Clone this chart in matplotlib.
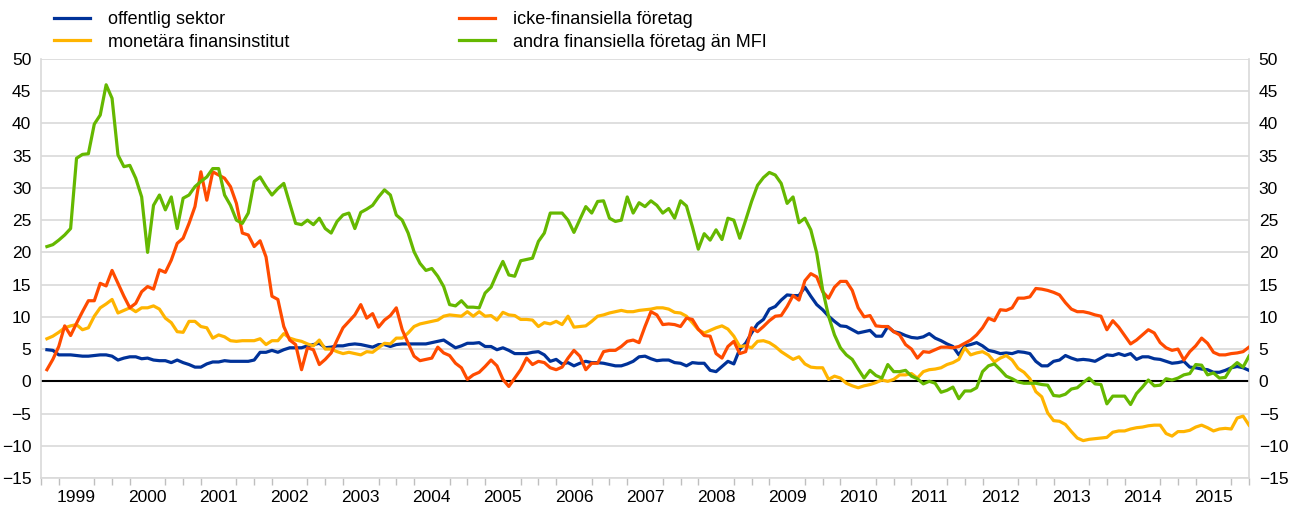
import numpy as np
import matplotlib
matplotlib.use("Agg")
import matplotlib.pyplot as plt

plt.rcParams['font.family'] = ['Liberation Sans', 'DejaVu Sans']

# monthly growth rates, Jan 1999 - Dec 2015 (percent)
offentlig = [
    4.9, 4.8, 4.1, 4.1, 4.1, 4.0, 3.9, 3.9, 4.0, 4.1,
    4.1, 3.9, 3.3, 3.6, 3.8, 3.8, 3.5, 3.6, 3.3, 3.2,
    3.2, 2.9, 3.3, 2.9, 2.6, 2.2, 2.2, 2.7, 3.0, 3.0,
    3.2, 3.1, 3.1, 3.1, 3.1, 3.3, 4.5, 4.5, 4.8, 4.5,
    4.9, 5.2, 5.2, 5.2, 5.5, 5.7, 5.9, 5.2, 5.3, 5.5,
    5.5, 5.7, 5.8, 5.7, 5.5, 5.3, 5.7, 5.7, 5.4, 5.7,
    5.8, 5.8, 5.8, 5.8, 5.8, 6.0, 6.2, 6.4, 5.8, 5.2,
    5.5, 5.9, 5.9, 6.0, 5.4, 5.4, 4.9, 5.2, 4.8, 4.3,
    4.3, 4.3, 4.5, 4.6, 4.1, 3.1, 3.4, 2.7, 2.9, 2.4,
    2.8, 3.1, 2.9, 2.9, 2.8, 2.6, 2.4, 2.4, 2.7, 3.1,
    3.8, 3.9, 3.5, 3.2, 3.3, 3.3, 2.9, 2.8, 2.4, 2.9,
    2.8, 2.8, 1.7, 1.5, 2.3, 3.1, 2.7, 5.0, 5.9, 7.5,
    8.9, 9.6, 11.2, 11.6, 12.6, 13.4, 13.3, 13.3, 14.6, 13.2,
    11.9, 11.1, 10.1, 9.3, 8.6, 8.5, 8.0, 7.5, 7.7, 7.9,
    7.0, 7.0, 8.5, 7.7, 7.5, 7.1, 6.8, 6.7, 6.9, 7.4,
    6.7, 6.3, 5.8, 5.4, 4.1, 5.5, 5.7, 6.0, 5.5, 4.8,
    4.6, 4.3, 4.4, 4.3, 4.6, 4.5, 4.3, 3.1, 2.4, 2.4,
    3.1, 3.3, 4.0, 3.6, 3.3, 3.4, 3.3, 3.1, 3.6, 4.1,
    4.0, 4.3, 4.0, 4.3, 3.4, 3.8, 3.8, 3.5, 3.4, 3.1,
    2.8, 2.9, 3.1, 2.2, 2.1, 1.9, 1.8, 1.4, 1.4, 1.7,
    2.1, 2.3, 2.1, 1.7,
]
monetara = [
    6.6, 7.0, 7.6, 8.3, 8.6, 8.8, 8.0, 8.3, 10.1, 11.4,
    12.0, 12.7, 10.6, 11.0, 11.4, 10.8, 11.4, 11.4, 11.7, 11.2,
    9.8, 9.1, 7.7, 7.6, 9.3, 9.3, 8.5, 8.3, 6.7, 7.2,
    6.9, 6.3, 6.2, 6.3, 6.3, 6.3, 6.6, 5.7, 6.3, 6.3,
    7.4, 6.7, 6.4, 6.2, 5.8, 5.5, 6.4, 5.0, 5.0, 4.6,
    4.3, 4.5, 4.3, 4.1, 4.6, 4.5, 5.2, 5.9, 5.8, 6.7,
    6.7, 7.5, 8.5, 8.9, 9.1, 9.3, 9.5, 10.1, 10.3, 10.2,
    10.1, 10.8, 10.1, 10.8, 10.1, 10.2, 9.5, 10.7, 10.3, 10.2,
    9.6, 9.6, 9.5, 8.5, 9.1, 8.9, 9.3, 8.8, 10.1, 8.4,
    8.5, 8.6, 9.3, 10.1, 10.3, 10.6, 10.8, 11.0, 10.8, 10.8,
    11.0, 11.1, 11.2, 11.4, 11.4, 11.2, 10.7, 10.6, 10.1, 9.1,
    8.0, 7.5, 7.9, 8.3, 8.6, 8.1, 7.0, 5.4, 5.5, 5.2,
    6.2, 6.3, 6.0, 5.4, 4.6, 4.0, 3.4, 3.8, 2.7, 2.2,
    2.1, 2.1, 0.3, 0.8, 0.5, -0.3, -0.7, -1.0, -0.7, -0.5,
    -0.2, 0.2, 0.0, 0.3, 1.0, 1.0, 1.2, 0.5, 1.5, 1.8,
    1.9, 2.1, 2.6, 2.9, 3.4, 5.2, 4.1, 4.4, 4.6, 4.1,
    3.0, 3.6, 4.0, 3.3, 2.0, 1.4, 0.4, -1.6, -2.4, -4.9,
    -6.1, -6.2, -6.7, -7.8, -8.8, -9.2, -9.0, -8.9, -8.8, -8.7,
    -7.9, -7.7, -7.7, -7.4, -7.2, -7.1, -6.9, -6.8, -6.8, -8.1,
    -8.5, -7.8, -7.8, -7.6, -7.1, -6.8, -7.2, -7.7, -7.4, -7.3,
    -7.4, -5.7, -5.4, -6.8,
]
icke_fin = [
    1.8, 3.4, 5.4, 8.6, 7.1, 9.0, 10.8, 12.5, 12.5, 15.2,
    14.8, 17.2, 15.2, 13.2, 11.4, 12.1, 13.9, 14.7, 14.3, 17.3,
    16.9, 18.8, 21.4, 22.2, 24.5, 27.1, 32.5, 28.1, 32.5, 32.0,
    31.5, 30.2, 27.6, 23.0, 22.7, 20.9, 21.8, 19.3, 13.2, 12.7,
    8.5, 6.4, 5.7, 1.8, 5.2, 4.9, 2.6, 3.4, 4.4, 6.4,
    8.3, 9.3, 10.3, 11.9, 9.8, 10.5, 8.4, 9.5, 10.2, 11.4,
    8.0, 5.9, 3.9, 3.2, 3.4, 3.6, 5.3, 4.4, 4.0, 2.8,
    2.1, 0.3, 1.0, 1.4, 2.3, 3.3, 2.4, 0.3, -0.8, 0.5,
    1.8, 3.6, 2.6, 3.1, 2.9, 2.1, 1.8, 2.2, 3.6, 4.8,
    3.9, 1.8, 2.8, 2.8, 4.6, 4.8, 4.8, 5.4, 6.2, 6.4,
    6.0, 8.5, 10.8, 10.3, 8.8, 8.9, 8.8, 8.5, 9.8, 9.6,
    8.1, 7.1, 7.0, 4.3, 3.6, 5.4, 6.2, 4.3, 4.6, 8.3,
    7.7, 8.5, 9.4, 10.1, 10.2, 11.6, 13.3, 12.6, 15.6, 16.7,
    16.2, 13.9, 12.9, 14.6, 15.5, 15.5, 14.1, 11.4, 10.0, 10.2,
    8.6, 8.5, 8.5, 7.7, 7.2, 5.7, 5.0, 3.6, 4.6, 4.5,
    4.9, 5.3, 5.3, 5.2, 5.4, 5.9, 6.4, 7.2, 8.3, 9.8,
    9.4, 11.1, 11.0, 11.4, 12.9, 12.9, 13.1, 14.4, 14.3, 14.1,
    13.8, 13.4, 12.2, 11.2, 10.8, 10.8, 10.6, 10.3, 10.1, 8.0,
    9.4, 8.4, 7.1, 5.8, 6.4, 7.2, 8.0, 7.5, 6.0, 5.2,
    4.8, 5.0, 3.3, 4.6, 5.5, 6.7, 5.9, 4.5, 4.1, 4.1,
    4.3, 4.4, 4.6, 5.3,
]
andra_fin = [
    20.9, 21.2, 21.9, 22.7, 23.7, 34.6, 35.2, 35.3, 39.9, 41.3,
    46.0, 43.9, 35.1, 33.3, 33.5, 31.5, 28.6, 20.0, 27.3, 28.9,
    26.6, 28.6, 23.7, 28.4, 28.9, 30.2, 31.0, 31.7, 33.0, 33.0,
    28.9, 27.3, 25.0, 24.5, 26.1, 31.0, 31.7, 30.2, 28.9, 29.9,
    30.7, 27.6, 24.5, 24.3, 25.0, 24.3, 25.3, 23.7, 23.0, 24.8,
    25.8, 26.1, 23.7, 26.2, 26.7, 27.3, 28.6, 29.7, 28.9, 25.8,
    25.0, 23.0, 20.1, 18.3, 17.2, 17.5, 16.3, 14.7, 11.9, 11.7,
    12.5, 11.5, 11.5, 11.4, 13.7, 14.6, 16.7, 18.6, 16.5, 16.3,
    18.7, 18.9, 19.1, 21.7, 23.0, 26.1, 26.1, 26.1, 25.0, 23.1,
    25.1, 27.1, 26.1, 27.9, 28.0, 25.3, 24.8, 25.0, 28.6, 26.1,
    27.7, 27.1, 28.0, 27.3, 26.1, 26.8, 25.3, 28.0, 27.2, 24.0,
    20.5, 22.9, 21.9, 23.5, 22.0, 25.3, 25.0, 22.2, 25.0, 27.9,
    30.4, 31.6, 32.4, 32.0, 30.7, 27.6, 28.6, 24.6, 25.3, 23.5,
    19.9, 14.2, 10.1, 7.2, 5.2, 4.1, 3.4, 1.9, 0.5, 1.7,
    0.9, 0.5, 2.6, 1.5, 1.5, 1.7, 0.8, 0.4, -0.4, 0.0,
    -0.3, -1.7, -1.4, -0.9, -2.7, -1.5, -1.5, -1.0, 1.5, 2.4,
    2.7, 1.8, 0.8, 0.4, -0.1, -0.3, -0.3, -0.3, -0.5, -0.6,
    -2.2, -2.3, -2.0, -1.2, -1.0, -0.2, 0.5, -0.4, -0.5, -3.5,
    -2.3, -2.3, -2.3, -3.6, -1.9, -0.9, 0.2, -0.7, -0.6, 0.4,
    0.2, 0.5, 1.0, 1.2, 2.6, 2.5, 1.0, 1.3, 0.5, 0.6,
    2.1, 2.9, 2.2, 3.9,
]
years = [str(y) for y in range(1999, 2016)]

series = [
    ("offentlig sektor", offentlig, "#003299"),
    ("monetära finansinstitut", monetara, "#ffb400"),
    ("icke-finansiella företag", icke_fin, "#ff4b00"),
    ("andra finansiella företag än MFI", andra_fin, "#65b800"),
]

fig = plt.figure(figsize=(12.89, 5.09), dpi=100)
ax = fig.add_axes([41 / 1289, 1 - 478 / 509, 1208 / 1289, 419 / 509])

months = np.arange(1, len(offentlig) + 1)
handles = []
for label, vals, col in series:
    h, = ax.plot(months, vals, color=col, lw=2.3, label=label,
                 solid_joinstyle="round", zorder=3)
    handles.append(h)

ax.axhline(0, color="black", lw=1.5, zorder=2)

ax.set_ylim(-15, 50)
ax.set_yticks(np.arange(-15, 51, 5))
ax.set_xlim(0, 12 * len(years))
ax.grid(axis="y", color="#d9d9d9", lw=1.2, zorder=0)
ax.set_axisbelow(True)

# years labelled at mid-year, quarterly tick marks
ax.set_xticks(np.arange(6, 12 * len(years), 12))
ax.set_xticklabels(years)
ax.set_xticks(np.arange(0, 12 * len(years) + 1, 3), minor=True)
ax.tick_params(axis="x", which="major", length=0, pad=9, labelsize=12.5)
ax.tick_params(axis="x", which="minor", length=5, color="#bfbfbf", width=1)
ax.tick_params(axis="y", length=0, labelsize=12.5, labelleft=True,
               labelright=True, pad=7)

for s in ["left", "right", "bottom"]:
    ax.spines[s].set_color("#d9d9d9")
    ax.spines[s].set_linewidth(1.2)
ax.spines["top"].set_visible(False)

fig.legend(handles=handles, loc="upper left", bbox_to_anchor=(0.029, 1.01),
           ncol=2, frameon=False, fontsize=13, handlelength=2.0,
           handletextpad=1.0, columnspacing=9.4, labelspacing=0.3)

fig.savefig("out.png", dpi=100)
